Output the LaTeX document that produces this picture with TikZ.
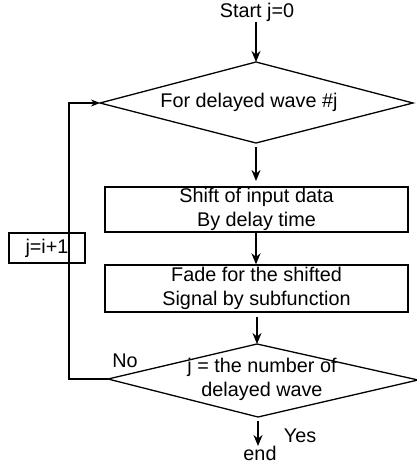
\documentclass[tikz,border=0pt]{standalone}
\usepackage{fontspec}
\setmainfont{Liberation Sans}
\usetikzlibrary{arrows.meta}
\begin{document}
\begin{tikzpicture}[x=1pt,y=-1pt,line width=1.3pt,
  txt/.style={font=\fontsize{19.8}{24}\selectfont,inner sep=0pt,align=center},
  procbox/.style={draw,txt,minimum width=303pt,minimum height=46pt},
  arr/.style={-{Stealth[length=11pt,width=9pt]},line width=2.6pt},
  looparr/.style={-{Stealth[length=9pt,width=7pt]},line width=1.8pt}]
\useasboundingbox (0,0) rectangle (417,466);
% start
\node[txt] (start) at (257,12) {Start j=0};
% diamond 1
\coordinate (d1t) at (256,62);
\coordinate (d1l) at (100,103);
\coordinate (d1r) at (413,103);
\coordinate (d1b) at (256,143);
\draw (d1t) -- (d1r) -- (d1b) -- (d1l) -- cycle;
\node[txt] (d1) at (249,102) {For delayed wave \#j};
% boxes
\node[procbox,minimum height=45pt] (b1) at (256.5,209.5) {Shift of input data\\By delay time};
\node[procbox,minimum height=47pt] (b2) at (256.5,288.5) {Fade for the shifted\\Signal by subfunction};
% diamond 2
\coordinate (d2t) at (257,344);
\coordinate (d2l) at (108,379);
\coordinate (d2r) at (418,380);
\coordinate (d2b) at (258,417);
\draw (d2t) -- (d2r) -- (d2b) -- (d2l) -- cycle;
\node[txt] (d2) at (262,379) {j = the number of\\delayed wave};
% increment box
\node[draw,txt,minimum width=76pt,minimum height=30pt] (inc) at (47,248) {j=i+1};
% end
\node[txt,anchor=base] (end) at (260,460) {end};
\node[txt] (yes) at (300,436) {Yes};
\node[txt] (no) at (125,361) {No};
% connectors
\coordinate (s0) at (256,22);
\coordinate (a1s) at (256,147);
\coordinate (a1e) at (256,181);
\coordinate (a3s) at (257,317);
\coordinate (a4s) at (258,421);
\coordinate (a4e) at (258,446);
\coordinate (lc) at (69,379);
\draw[arr] (s0) -- (d1t);
\draw[arr] (a1s) -- (a1e);
\draw[arr] (b1.south -| 256,0) -- (b2.north -| 256,0);
\draw[arr] (a3s) -- (d2t);
\draw[arr] (a4s) -- (a4e);
\draw[looparr] (d2l) -- (lc) |- (d1l);
\end{tikzpicture}
\end{document}
